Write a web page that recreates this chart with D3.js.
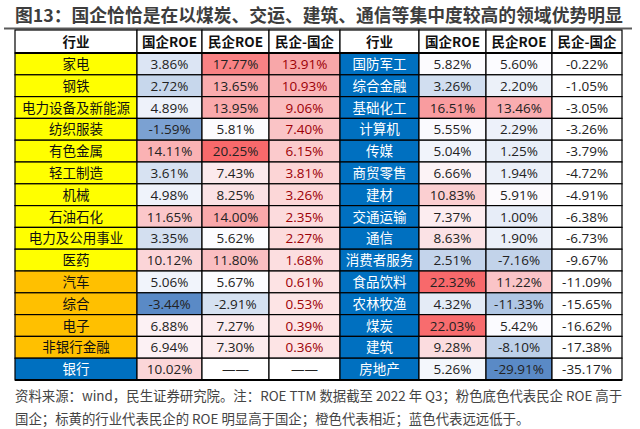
<!DOCTYPE html>
<html><head><meta charset="utf-8">
<script src="https://cdn.jsdelivr.net/npm/d3@7"></script>
<style>html,body{margin:0;padding:0;background:#fff;}</style>
</head><body>
<svg id="chart" width="640" height="429"></svg>
<script>
// ---------- data ----------
const title = "图13：国企恰恰是在以煤炭、交运、建筑、通信等集中度较高的领域优势明显";
const headers = ["行业", "国企ROE", "民企ROE", "民企-国企"];
const leftIndustries = ["家电","钢铁","电力设备及新能源","纺织服装","有色金属","轻工制造","机械","石油石化","电力及公用事业","医药","汽车","综合","电子","非银行金融","银行"];
const leftGroup = ["y","y","y","y","y","y","y","y","y","y","o","o","o","o","b"];
const leftSoe = [3.86,2.72,4.89,-1.59,14.11,3.61,4.98,11.65,3.35,10.12,5.06,-3.44,6.88,6.94,10.02];
const leftPrivate = [17.77,13.65,13.95,5.81,20.25,7.43,8.25,14.00,5.62,11.80,5.67,-2.91,7.27,7.30,null];
const leftDiff = [13.91,10.93,9.06,7.40,6.15,3.81,3.26,2.35,2.27,1.68,0.61,0.53,0.39,0.36,null];
const rightIndustries = ["国防军工","综合金融","基础化工","计算机","传媒","商贸零售","建材","交通运输","通信","消费者服务","食品饮料","农林牧渔","煤炭","建筑","房地产"];
const rightGroup = ["b","b","b","b","b","b","b","b","b","b","b","b","b","b","b"];
const rightSoe = [5.82,3.26,16.51,5.55,5.04,6.66,10.83,7.37,8.63,2.51,22.32,4.32,22.03,9.28,5.26];
const rightPrivate = [5.60,2.20,13.46,2.29,1.25,1.94,5.91,1.00,1.90,-7.16,11.22,-11.33,5.42,-8.10,-29.91];
const rightDiff = [-0.22,-1.05,-3.05,-3.26,-3.79,-4.72,-4.91,-6.38,-6.73,-9.67,-11.09,-15.65,-16.62,-17.38,-35.17];
const footnote1 = "资料来源：wind，民生证券研究院。注：ROE TTM 数据截至 2022 年 Q3；粉色底色代表民企 ROE 高于";
const footnote2 = "国企；标黄的行业代表民企的 ROE 明显高于国企；橙色代表相近；蓝色代表远远低于。";

// ---------- layout ----------
const svg = d3.select("#chart");
svg.append("rect").attr("width",640).attr("height",429).attr("fill","#fff");
const CJK = "'Noto Sans CJK SC', 'Noto Sans', sans-serif";
const NUM = "'Open Sans', 'Noto Sans CJK SC', sans-serif";

svg.append("text").attr("x",15).attr("y",22)
  .attr("font-family",CJK).attr("font-weight","bold").attr("font-size",17.8)
  .attr("fill","#3d3d3d").text(title);
svg.append("line").attr("x1",4).attr("x2",632).attr("y1",28.5).attr("y2",28.5)
  .attr("stroke","#5a5a5a").attr("stroke-width",2);

const colEdges = [15,137,202,269,340,419,486,552,622];
const headerTop = 30, headerBottom = 53, tableBottom = 380;
const rowIdx = d3.range(leftIndustries.length);
const y = d3.scaleBand().domain(rowIdx).range([headerBottom, tableBottom]).padding(0);

const groupFill = {y:"#FFFF00", o:"#FFC000", b:"#0070C0"};
const groupText = {y:"#111", o:"#111", b:"#fff"};

function threeColor(vals){
  const v = vals.filter(d => d != null);
  return d3.scaleLinear()
    .domain([d3.min(v), d3.median(v), d3.max(v)])
    .range(["#5A8AC6","#FCFCFF","#F8696B"]).clamp(true);
}
const soeScale = threeColor(leftSoe.concat(rightSoe));
const privScale = threeColor(leftPrivate.concat(rightPrivate));
const allDiff = leftDiff.concat(rightDiff).filter(d=>d!=null);
const diffPos = d3.scaleLinear().domain([0, d3.max(allDiff)]).range(["#FDE6E7","#F8A7A9"]);
const fmt = v => v == null ? "——" : v.toFixed(2) + "%";

const tables = [
  {x0:0, ind:leftIndustries, grp:leftGroup, soe:leftSoe, priv:leftPrivate, diff:leftDiff},
  {x0:4, ind:rightIndustries, grp:rightGroup, soe:rightSoe, priv:rightPrivate, diff:rightDiff}
];

const g = svg.append("g");
tables.forEach(t => {
  headers.forEach((h,j) => {
    const xa = colEdges[t.x0+j], xb = colEdges[t.x0+j+1];
    g.append("rect").attr("x",xa).attr("y",headerTop).attr("width",xb-xa).attr("height",headerBottom-headerTop)
      .attr("fill","#fff").attr("stroke","#000").attr("stroke-width",1.2);
    g.append("text").attr("x",(xa+xb)/2).attr("y",(headerTop+headerBottom)/2+5)
      .attr("text-anchor","middle").attr("font-family",CJK).attr("font-weight","bold")
      .attr("font-size",13.5).attr("fill","#111").text(h);
  });
  rowIdx.forEach(i => {
    const cells = [
      {text:t.ind[i], fill:groupFill[t.grp[i]], color:groupText[t.grp[i]], font:CJK},
      {text:fmt(t.soe[i]), fill:soeScale(t.soe[i]), color:"#222", font:NUM},
      {text:fmt(t.priv[i]), fill:t.priv[i]==null?"#fff":privScale(t.priv[i]), color:"#222", font:NUM},
      {text:fmt(t.diff[i]), fill:(t.diff[i]!=null && t.diff[i]>0)?diffPos(t.diff[i]):"#fff",
        color:(t.diff[i]!=null && t.diff[i]>0)?"#9C0006":"#222", font:NUM}
    ];
    cells.forEach((c,j) => {
      const xa = colEdges[t.x0+j], xb = colEdges[t.x0+j+1];
      g.append("rect").attr("x",xa).attr("y",y(i)).attr("width",xb-xa).attr("height",y.bandwidth())
        .attr("fill",c.fill).attr("stroke","#000").attr("stroke-width",1.2);
      g.append("text").attr("x",(xa+xb)/2).attr("y",y(i)+y.bandwidth()/2+5)
        .attr("text-anchor","middle").attr("font-family",c.font)
        .attr("font-size",13.5).attr("fill",c.color).text(c.text);
    });
  });
});
g.append("line").attr("x1",colEdges[0]).attr("x2",colEdges[8]).attr("y1",headerBottom).attr("y2",headerBottom)
  .attr("stroke","#000").attr("stroke-width",2);
g.append("line").attr("x1",colEdges[0]).attr("x2",colEdges[8]).attr("y1",tableBottom).attr("y2",tableBottom)
  .attr("stroke","#000").attr("stroke-width",1.8);

svg.append("text").attr("x",15).attr("y",401).attr("font-family",CJK).attr("font-size",13.4)
  .attr("fill","#444").text(footnote1);
svg.append("text").attr("x",15).attr("y",424).attr("font-family",CJK).attr("font-size",13.4)
  .attr("fill","#444").text(footnote2);
</script>
</body></html>
